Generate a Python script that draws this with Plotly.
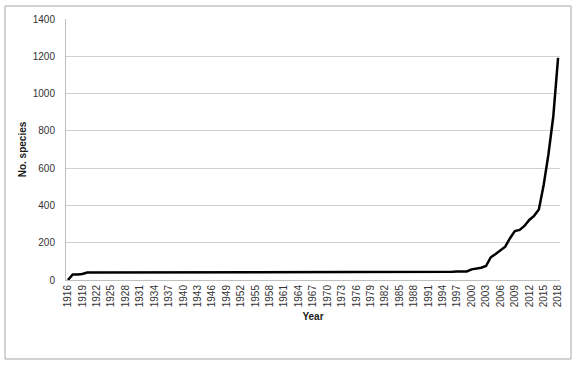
import plotly.graph_objects as go

years = list(range(1916, 2019))
# values
early = [0, 30, 30, 32]                      # 1916-1919
flat = [40] * (1996 - 1920)                  # 1920-1995
late_flat = [44, 45, 45, 46]                 # 1996-1999
recent = [57, 61, 66, 75, 122, 140, 158, 179, 224, 262, 269, 290,
          322, 344, 378, 510, 675, 877, 1192]  # 2000-2018
species = early + flat + late_flat + recent

tick_years = list(range(1916, 2019, 3))
y_ticks = list(range(0, 1401, 200))

fig = go.Figure()
fig.add_trace(go.Scatter(x=years, y=species, mode="lines",
                         line=dict(color="black", width=2.5), showlegend=False))

font_family = "Liberation Sans, Arial, sans-serif"
fig.update_layout(
    width=580, height=366,
    margin=dict(l=66, r=20, t=19, b=86),
    paper_bgcolor="white", plot_bgcolor="white",
    font=dict(family=font_family, size=10, color="#333333"),
    xaxis=dict(
        range=[1915.6, 2018.4],
        tickmode="array", tickvals=tick_years, ticktext=[str(t) for t in tick_years],
        tickangle=-90, showgrid=False, zeroline=False,
        showline=True, linecolor="#bfbfbf", linewidth=1,
        ticks="", tickfont=dict(size=10, color="#333333"),
        title=dict(text="<b>Year</b>", font=dict(size=10, color="#1a1a1a"), standoff=6),
    ),
    yaxis=dict(
        range=[0, 1400], tickmode="array", tickvals=y_ticks,
        showgrid=True, gridcolor="#d0d0d0", gridwidth=1, zeroline=False,
        showline=True, linecolor="#bfbfbf", linewidth=1,
        ticks="", ticklabelstandoff=8, tickfont=dict(size=10, color="#333333"),
        title=dict(text="<b>No. species</b>", font=dict(size=10, color="#1a1a1a"), standoff=4),
    ),
    shapes=[dict(type="rect", xref="paper", yref="paper",
                 x0=-61/494, x1=505/494, y0=-79/261, y1=1 + 13/261,
                 line=dict(color="#a6a6a6", width=1), layer="below")],
)

fig.write_html("out.html")
